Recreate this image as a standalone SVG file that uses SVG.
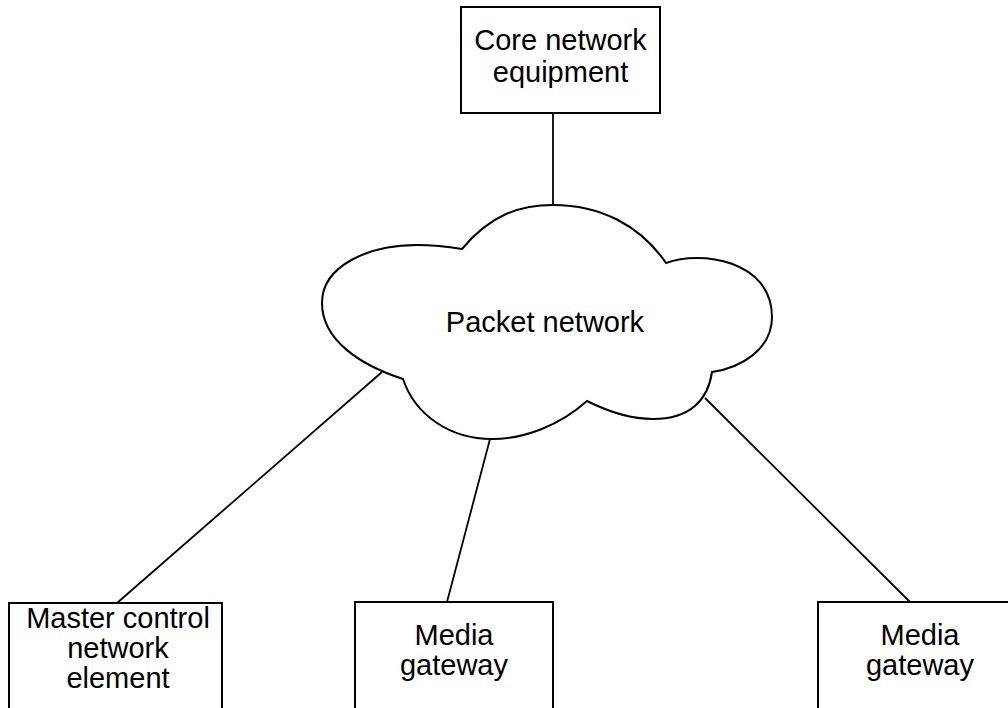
<svg xmlns="http://www.w3.org/2000/svg" width="1008" height="708" viewBox="0 0 1008 708">
<style>
.box{fill:#fff;stroke:#000;stroke-width:2}
.cloud{fill:#fff;stroke:#000;stroke-width:2}
.lbl{font-family:"Liberation Sans",Arial,sans-serif;font-size:29px;fill:#000;text-anchor:middle}
.conn line{stroke:#000;stroke-width:1.8}
</style>
<rect width="1008" height="708" fill="#fff"/>
<g class="conn" id="connectors">
<line x1="553" y1="113" x2="553" y2="206"/>
<line x1="117" y1="603" x2="382" y2="372"/>
<line x1="447" y1="602" x2="490" y2="439"/>
<line x1="910" y1="602" x2="705" y2="398"/>
</g>
<g id="core">
<rect class="box" x="461" y="7" width="199" height="106"/>
<text class="lbl" x="560.5" y="50">Core network</text>
<text class="lbl" x="560.5" y="82">equipment</text>
</g>
<g id="packet">
<path class="cloud" d="M 462 249 C 490 215 520 205 553 205 C 600 205 640 225 666 263 C 700 250 772 260 772 317 C 772 350 740 368 712 372 C 708 400 690 419 653 419 C 630 419 605 410 587 401 C 560 425 525 439 492 439 C 450 439 415 415 403 379 C 360 365 322 340 322 303 C 322 265 370 245 417 245 C 435 245 450 247 462 249 Z"/>
<text class="lbl" x="545" y="332">Packet network</text>
</g>
<g id="master">
<rect class="box" x="9" y="603" width="213" height="115"/>
<text class="lbl" x="118" y="628">Master control</text>
<text class="lbl" x="118" y="658">network</text>
<text class="lbl" x="118" y="688">element</text>
</g>
<g id="media1">
<rect class="box" x="355" y="602" width="198" height="115"/>
<text class="lbl" x="454" y="645">Media</text>
<text class="lbl" x="454" y="675">gateway</text>
</g>
<g id="media2">
<rect class="box" x="818" y="602" width="205" height="115"/>
<text class="lbl" x="920" y="645">Media</text>
<text class="lbl" x="920" y="675">gateway</text>
</g>
</svg>
